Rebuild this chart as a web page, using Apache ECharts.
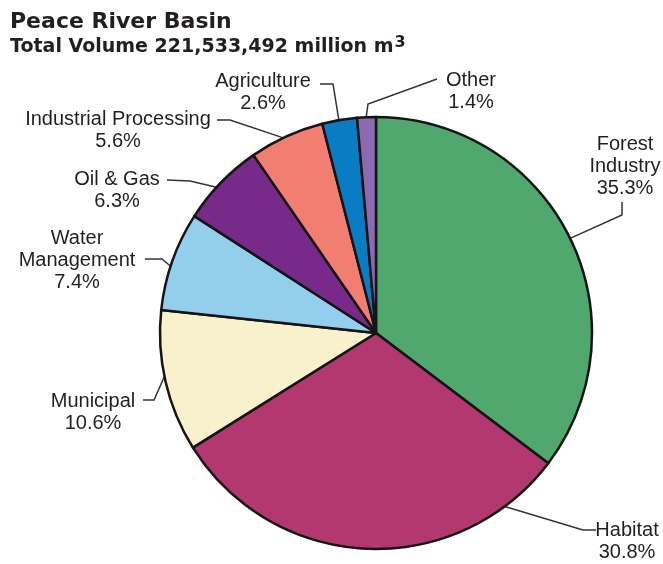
<!DOCTYPE html>
<html>
<head>
<meta charset="utf-8">
<script src="https://cdn.jsdelivr.net/npm/echarts@6/dist/echarts.min.js"></script>
<style>
  html, body { margin: 0; padding: 0; background: #fff; }
  #chart { width: 663px; height: 564px; }
</style>
</head>
<body>
<div id="chart"></div>
<script>
// slices, clockwise from 12 o'clock
const categories = ['Forest\nIndustry', 'Habitat', 'Municipal', 'Water\nManagement', 'Oil & Gas', 'Industrial Processing', 'Agriculture', 'Other'];
const shares = [35.3, 30.8, 10.6, 7.4, 6.3, 5.6, 2.6, 1.4];
const sliceColors = ['#50a86f', '#b2386f', '#f9f0cc', '#93cfec', '#772a8a', '#f27e72', '#0a7cc4', '#8a6bb3'];

// pie geometry
const cx = 376, cy = 333, R = 216;

// where each label sits: text anchor, leader line elbow + end, and the angle where it touches the pie
const labelSpots = [
  { x: 625, y: 166, edge: 64,    elbow: [622, 215], end: [622, 202] },
  { x: 627, y: 541, edge: 143.4, elbow: [583, 530], end: [596, 530] },
  { x: 93,  y: 412, edge: 258.4, elbow: [154, 400], end: [143, 400] },
  { x: 77,  y: 260, edge: 288,   elbow: [162, 259], end: [145, 259] },
  { x: 117, y: 190, edge: 312.4, elbow: [190, 181], end: [167, 180] },
  { x: 118, y: 130, edge: 334.6, elbow: [230, 120], end: [217, 120] },
  { x: 263, y: 92,  edge: 350.1, elbow: [333, 84],  end: [320, 84] },
  { x: 471, y: 91,  edge: 357.4, elbow: [368, 104], end: [437, 79] }
];

function edgePoint (deg) {
  const a = deg * Math.PI / 180;
  return [cx + R * Math.sin(a), cy - R * Math.cos(a)];
}

const chart = echarts.init(document.getElementById('chart'));

const titleFont = 'DejaVu Sans';

const option = {
  backgroundColor: '#ffffff',
  animation: false,
  title: {
    left: 5,
    top: 5,
    text: '{l1|Peace River Basin}\n{l2|Total Volume 221,533,492 million m}{sup|3}',
    textStyle: {
      fontFamily: titleFont,
      fontWeight: 'bold',
      fontSize: 21,
      lineHeight: 25,
      color: '#231f20',
      rich: {
        l1: { fontFamily: titleFont, fontWeight: 'bold', fontSize: 22, lineHeight: 25, color: '#231f20' },
        l2: { fontFamily: titleFont, fontWeight: 'bold', fontSize: 19, lineHeight: 25, color: '#231f20' },
        sup: {
          fontFamily: titleFont,
          fontWeight: 'bold',
          fontSize: 16,
          verticalAlign: 'top',
          padding: [0, 0, 7, 1],
          color: '#231f20'
        }
      }
    }
  },
  series: [
    {
      type: 'pie',
      center: [cx, cy],
      radius: R,
      startAngle: 90,
      clockwise: true,
      avoidLabelOverlap: false,
      data: categories.map(function (name, i) {
        return { name: name, value: shares[i], itemStyle: { color: sliceColors[i] } };
      }),
      itemStyle: {
        borderColor: '#151515',
        borderWidth: 2.5
      },
      label: {
        show: true,
        position: 'outside',
        formatter: '{b}\n{c}%',
        fontFamily: 'Liberation Sans, Arial, sans-serif',
        fontSize: 20,
        lineHeight: 22,
        color: '#231f20',
        align: 'center'
      },
      labelLine: {
        show: true,
        lineStyle: { color: '#333333', width: 1.5 }
      },
      labelLayout: function (params) {
        const s = labelSpots[params.dataIndex];
        return {
          x: s.x,
          y: s.y,
          align: 'center',
          verticalAlign: 'middle',
          labelLinePoints: [edgePoint(s.edge), s.elbow, s.end]
        };
      }
    }
  ]
};

chart.setOption(option);
</script>
</body>
</html>
